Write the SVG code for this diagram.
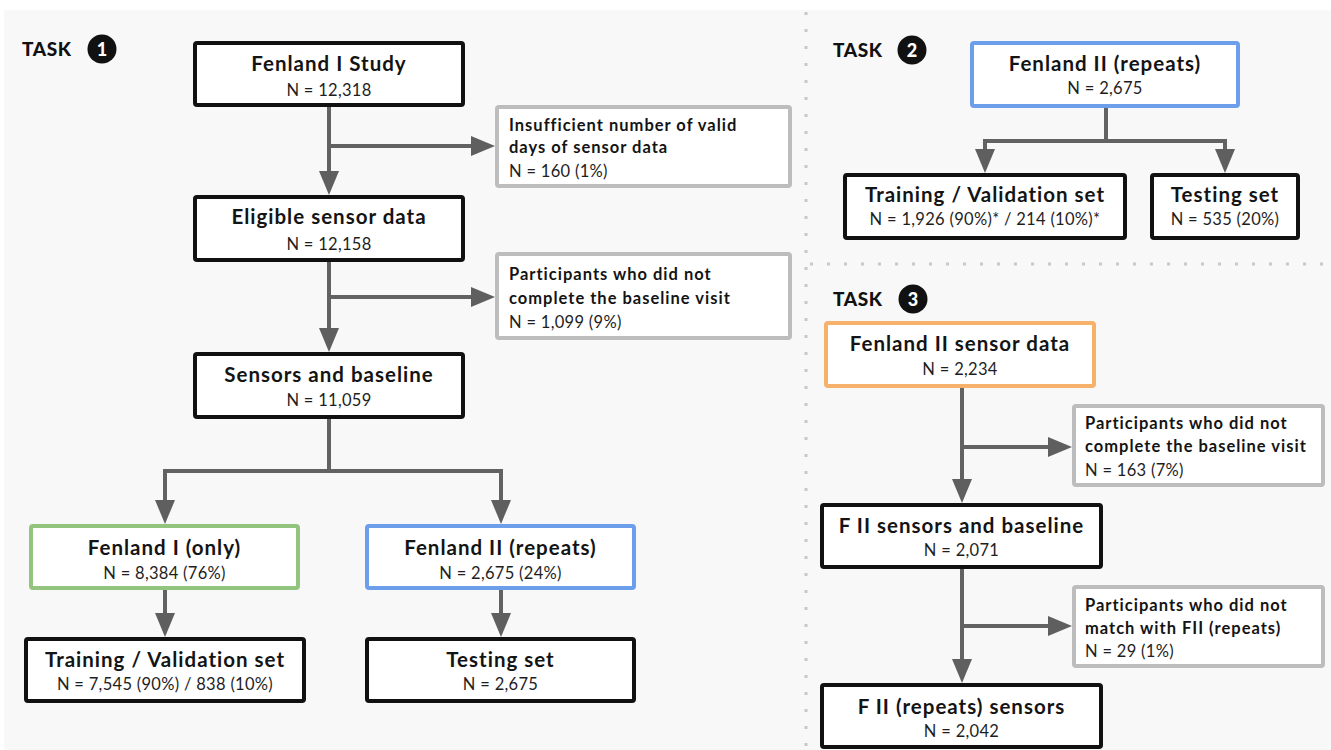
<svg xmlns="http://www.w3.org/2000/svg" width="1331" height="750" viewBox="0 0 1331 750">
<style>
.box{fill:#ffffff;stroke:#111111;stroke-width:4}
.exc{fill:#ffffff;stroke:#bdbdbd;stroke-width:4}
.green{stroke:#93c47d}
.blue{stroke:#6d9eeb}
.orange{stroke:#f6b26b}
.t{font-family:Lato,"Liberation Sans",sans-serif;font-weight:bold;font-size:20.5px;letter-spacing:1px;fill:#141414;text-anchor:middle}
.n{font-family:Lato,"Liberation Sans",sans-serif;font-size:16.5px;letter-spacing:0.3px;fill:#1e1e1e;text-anchor:middle}
.et{font-family:Lato,"Liberation Sans",sans-serif;font-weight:bold;font-size:16.5px;letter-spacing:1px;fill:#141414}
.en{font-family:Lato,"Liberation Sans",sans-serif;font-size:16.5px;letter-spacing:0.3px;fill:#1e1e1e}
.task{font-family:Lato,"Liberation Sans",sans-serif;font-weight:900;font-size:19px;letter-spacing:0.6px;fill:#111111}
.num{font-family:Lato,"Liberation Sans",sans-serif;font-weight:900;font-size:18px;fill:#ffffff;text-anchor:middle}
.c{fill:none;stroke:#626262;stroke-width:4}
.ca{fill:none;stroke:#626262;stroke-width:4;marker-end:url(#ah)}
.dot{stroke:#c8c8c8;stroke-width:3;stroke-dasharray:3 14}
</style>
<defs>
<marker id="ah" markerUnits="userSpaceOnUse" markerWidth="26" markerHeight="22" refX="16" refY="10" orient="auto">
<path d="M0,0 L24,10 L0,20 Z" fill="#5f5f5f"/>
</marker>
</defs>
<rect x="4" y="10" width="1327" height="740" fill="#f8f8f8"/>
<g id="separators">
<line class="dot" x1="806" y1="12" x2="806" y2="750"/>
<line class="dot" x1="810" y1="264" x2="1331" y2="264"/>
</g>
<g id="labels">
<text class="task" x="22" y="56">TASK</text>
<circle cx="102" cy="49" r="14.5" fill="#111111"/>
<text class="num" x="102" y="55.5">1</text>
<text class="task" x="833" y="57">TASK</text>
<circle cx="912" cy="50" r="14.5" fill="#111111"/>
<text class="num" x="912" y="56.5">2</text>
<text class="task" x="833" y="306">TASK</text>
<circle cx="913" cy="299" r="14.5" fill="#111111"/>
<text class="num" x="913" y="305.5">3</text>
</g>
<g id="connectors">
<path class="ca" d="M329,107 V187"/>
<path class="ca" d="M329,146 H487"/>
<path class="ca" d="M329,262 V344"/>
<path class="ca" d="M329,297 H487"/>
<path class="c" d="M329,419 V471"/>
<path class="c" d="M165,471 H501"/>
<path class="ca" d="M165,469 V516"/>
<path class="ca" d="M501,469 V516"/>
<path class="ca" d="M165,590 V629"/>
<path class="ca" d="M501,590 V629"/>
<path class="c" d="M1106,108 V141"/>
<path class="c" d="M985,141 H1225"/>
<path class="ca" d="M985,139 V165"/>
<path class="ca" d="M1225,139 V165"/>
<path class="ca" d="M962,388 V495"/>
<path class="ca" d="M962,447 H1064"/>
<path class="ca" d="M962,569 V675"/>
<path class="ca" d="M962,626 H1064"/>
</g>
<g id="n-fenland1-study">
<rect class="box" x="195" y="43" width="268" height="62" rx="2"/>
<text class="t" x="329" y="71">Fenland I Study</text>
<text class="n" x="329" y="96">N = 12,318</text>
</g>
<g id="n-excl-valid-days">
<rect class="exc" x="497" y="107" width="293" height="79" rx="2"/>
<text class="et" x="509" y="131">Insufficient number of valid</text>
<text class="et" x="509" y="153">days of sensor data</text>
<text class="en" x="509" y="177">N = 160 (1%)</text>
</g>
<g id="n-eligible">
<rect class="box" x="195" y="197" width="268" height="63" rx="2"/>
<text class="t" x="329" y="224">Eligible sensor data</text>
<text class="n" x="329" y="250">N = 12,158</text>
</g>
<g id="n-excl-baseline-1">
<rect class="exc" x="497" y="254" width="293" height="84" rx="2"/>
<text class="et" x="509" y="280">Participants who did not</text>
<text class="et" x="509" y="304">complete the baseline visit</text>
<text class="en" x="509" y="328">N = 1,099 (9%)</text>
</g>
<g id="n-sensors-baseline">
<rect class="box" x="195" y="354" width="268" height="63" rx="2"/>
<text class="t" x="329" y="382">Sensors and baseline</text>
<text class="n" x="329" y="406">N = 11,059</text>
</g>
<g id="n-fenland1-only">
<rect class="box green" x="31" y="526" width="267" height="62" rx="2"/>
<text class="t" x="164.5" y="555">Fenland I (only)</text>
<text class="n" x="164.5" y="579">N = 8,384 (76%)</text>
</g>
<g id="n-fenland2-repeats">
<rect class="box blue" x="367" y="526" width="267" height="62" rx="2"/>
<text class="t" x="500.5" y="555">Fenland II (repeats)</text>
<text class="n" x="500.5" y="579">N = 2,675 (24%)</text>
</g>
<g id="n-train-val-1">
<rect class="box" x="26" y="639" width="278" height="62" rx="2"/>
<text class="t" x="165" y="667">Training / Validation set</text>
<text class="n" x="165" y="690">N = 7,545 (90%) / 838 (10%)</text>
</g>
<g id="n-testing-1">
<rect class="box" x="367" y="639" width="267" height="62" rx="2"/>
<text class="t" x="500.5" y="667">Testing set</text>
<text class="n" x="500.5" y="690">N = 2,675</text>
</g>
<g id="n-fenland2-t2">
<rect class="box blue" x="972" y="43" width="266" height="63" rx="2"/>
<text class="t" x="1105" y="71">Fenland II (repeats)</text>
<text class="n" x="1105" y="94">N = 2,675</text>
</g>
<g id="n-train-val-2">
<rect class="box" x="845" y="175" width="280" height="63" rx="2"/>
<text class="t" x="985" y="202">Training / Validation set</text>
<text class="n" x="985" y="225">N = 1,926 (90%)* / 214 (10%)*</text>
</g>
<g id="n-testing-2">
<rect class="box" x="1152" y="175" width="146" height="63" rx="2"/>
<text class="t" x="1225" y="202">Testing set</text>
<text class="n" x="1225" y="225">N = 535 (20%)</text>
</g>
<g id="n-fenland2-sensor">
<rect class="box orange" x="826" y="323" width="268" height="63" rx="2"/>
<text class="t" x="960" y="351">Fenland II sensor data</text>
<text class="n" x="960" y="375">N = 2,234</text>
</g>
<g id="n-excl-baseline-3">
<rect class="exc" x="1074" y="406" width="249" height="79" rx="2"/>
<text class="et" x="1085" y="429">Participants who did not</text>
<text class="et" x="1085" y="452">complete the baseline visit</text>
<text class="en" x="1085" y="476">N = 163 (7%)</text>
</g>
<g id="n-f2-sensors-baseline">
<rect class="box" x="822" y="505" width="279" height="62" rx="2"/>
<text class="t" x="961.5" y="533">F II sensors and baseline</text>
<text class="n" x="961.5" y="556">N = 2,071</text>
</g>
<g id="n-excl-match">
<rect class="exc" x="1074" y="587" width="249" height="79" rx="2"/>
<text class="et" x="1085" y="611">Participants who did not</text>
<text class="et" x="1085" y="634">match with FII (repeats)</text>
<text class="en" x="1085" y="657">N = 29 (1%)</text>
</g>
<g id="n-f2-repeats-sensors">
<rect class="box" x="822" y="685" width="279" height="62" rx="2"/>
<text class="t" x="961.5" y="714">F II (repeats) sensors</text>
<text class="n" x="961.5" y="737">N = 2,042</text>
</g>
</svg>
